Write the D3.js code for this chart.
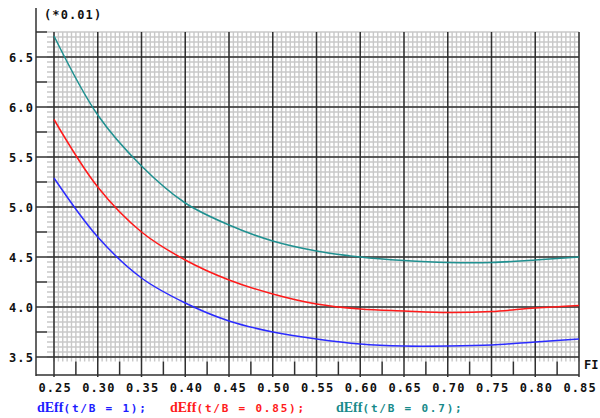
<!DOCTYPE html>
<html>
<head>
<meta charset="utf-8">
<script src="https://cdn.jsdelivr.net/npm/d3@7"></script>
<style>
  html, body { margin: 0; padding: 0; background: #fff; }
  svg { display: block; }
  .lbl { font-family: "DejaVu Sans Mono", monospace; font-weight: bold; font-size: 12px; letter-spacing: 1.1px; fill: #111; }
</style>
</head>
<body>
<svg id="chart" width="600" height="418"></svg>
<script>
// FI values along the horizontal axis
const fiValues = [0.25, 0.30, 0.35, 0.40, 0.45, 0.50, 0.55, 0.60, 0.65, 0.70, 0.75, 0.80, 0.85];
// dEff series (in units of 0.01)
const dEffTB1   = [5.29, 4.70, 4.29, 4.04, 3.86, 3.75, 3.68, 3.63, 3.61, 3.61, 3.62, 3.65, 3.68];
const dEffTB085 = [5.875, 5.20, 4.75, 4.47, 4.27, 4.13, 4.03, 3.98, 3.96, 3.945, 3.955, 3.99, 4.015];
const dEffTB07  = [6.71, 5.92, 5.41, 5.04, 4.82, 4.66, 4.56, 4.50, 4.465, 4.445, 4.445, 4.47, 4.50];
const xTickLabels = ["0.25", "0.30", "0.35", "0.40", "0.45", "0.50", "0.55", "0.60", "0.65", "0.70", "0.75", "0.80", "0.85"];
const yTickValues = [3.5, 4.0, 4.5, 5.0, 5.5, 6.0, 6.5];
const yTickLabels = ["3.5", "4.0", "4.5", "5.0", "5.5", "6.0", "6.5"];
const seriesNames = ["t/B = 1", "t/B = 0.85", "t/B = 0.7"];
const seriesColors = ["#2b2bff", "#ff1a1a", "#1f9090"];
const legendColors = ["#1c1cff", "#ff1a1a", "#178a8a"];

const svg = d3.select("#chart");
const x = d3.scaleLinear().domain([0.25, 0.85]).range([54, 579]);
const y = d3.scaleLinear().domain([3.5, 6.5]).range([357, 57]);

const axisX = 36, axisY = 375;
const gridTop = y(6.75), gridBottom = y(3.455);
const fineLeft = 47;

// fine grid
const g = svg.append("g");
const fineX = d3.range(0, 121).map(i => 0.25 + i * 0.005);
const fineY = d3.range(0, 66).map(i => 3.5 + i * 0.05);
g.selectAll("line.fx").data(fineX).join("line")
  .attr("x1", d => x(d)).attr("x2", d => x(d))
  .attr("y1", gridTop).attr("y2", gridBottom)
  .attr("stroke", "#c8c8c8").attr("stroke-width", 1.4);
g.selectAll("line.fy").data(fineY).join("line")
  .attr("x1", fineLeft).attr("x2", x(0.85))
  .attr("y1", d => y(d)).attr("y2", d => y(d))
  .attr("stroke", "#c8c8c8").attr("stroke-width", 1.4);

// major grid
g.selectAll("line.mx").data(fiValues).join("line")
  .attr("x1", d => x(d)).attr("x2", d => x(d))
  .attr("y1", gridTop).attr("y2", axisY + 2)
  .attr("stroke", "#303030").attr("stroke-width", 1.5);
g.selectAll("line.my").data(yTickValues).join("line")
  .attr("x1", axisX).attr("x2", x(0.85))
  .attr("y1", d => y(d)).attr("y2", d => y(d))
  .attr("stroke", "#303030").attr("stroke-width", 1.5);

// minor y ticks (quarter steps)
const yMinor = [3.75, 4.25, 4.75, 5.25, 5.75, 6.25, 6.75];
g.selectAll("line.ym").data(yMinor).join("line")
  .attr("x1", axisX).attr("x2", fineLeft)
  .attr("y1", d => y(d)).attr("y2", d => y(d))
  .attr("stroke", "#303030").attr("stroke-width", 1.5);

// minor x ticks (half steps)
const xMinor = d3.range(0, 12).map(i => 0.275 + i * 0.05);
g.selectAll("line.xm").data(xMinor).join("line")
  .attr("x1", d => x(d)).attr("x2", d => x(d))
  .attr("y1", gridBottom).attr("y2", axisY)
  .attr("stroke", "#303030").attr("stroke-width", 1.5);

// axis lines
svg.append("line").attr("x1", axisX).attr("x2", axisX).attr("y1", 8).attr("y2", axisY + 1)
  .attr("stroke", "#303030").attr("stroke-width", 1.5);
svg.append("line").attr("x1", axisX).attr("x2", x(0.85)).attr("y1", axisY).attr("y2", axisY)
  .attr("stroke", "#303030").attr("stroke-width", 1.5);

// tick labels via d3 axes
const xAxis = d3.axisBottom(x).tickValues(fiValues)
  .tickFormat((d, i) => xTickLabels[i]).tickSize(0).tickPadding(0);
const xa = svg.append("g").attr("transform", `translate(0,${axisY + 8})`).call(xAxis);
xa.select(".domain").remove();
xa.selectAll("text").attr("class", "lbl").attr("fill", "#111").attr("dy", "0.71em")
  .attr("dx", "0.6px");

const yAxis = d3.axisLeft(y).tickValues(yTickValues)
  .tickFormat((d, i) => yTickLabels[i]).tickSize(0).tickPadding(0);
const ya = svg.append("g").attr("transform", `translate(34,0)`).call(yAxis);
ya.select(".domain").remove();
ya.selectAll("text").attr("class", "lbl").attr("fill", "#111").attr("dy", "0.36em");

// unit and axis captions
svg.append("text").attr("class", "lbl").attr("x", 44).attr("y", 19).text("(*0.01)");
svg.append("text").attr("class", "lbl").attr("x", 584).attr("y", 369)
  .style("letter-spacing", "0px").text("FI");

// curves
const series = [dEffTB1, dEffTB085, dEffTB07];
const line = d3.line().x((d, i) => x(fiValues[i])).y(d => y(d)).curve(d3.curveCatmullRom.alpha(0.5));
svg.append("g").selectAll("path").data(series).join("path")
  .attr("d", d => line(d))
  .attr("fill", "none")
  .attr("stroke", (d, i) => seriesColors[i])
  .attr("stroke-width", 1.5);

// legend
const legendX = [37, 170, 336];
const lg = svg.append("g");
seriesNames.forEach((name, i) => {
  const t = lg.append("text").attr("x", legendX[i]).attr("y", 412)
    .attr("fill", legendColors[i]);
  t.append("tspan").text("dEff")
    .attr("font-family", "'Liberation Serif', serif").attr("font-weight", "bold").attr("font-size", "14px");
  t.append("tspan").text("(" + name + ");")
    .attr("font-family", "'DejaVu Sans Mono', monospace").attr("font-weight", "bold")
    .attr("font-size", "11px").attr("letter-spacing", "1.8px");
});
</script>
</body>
</html>
